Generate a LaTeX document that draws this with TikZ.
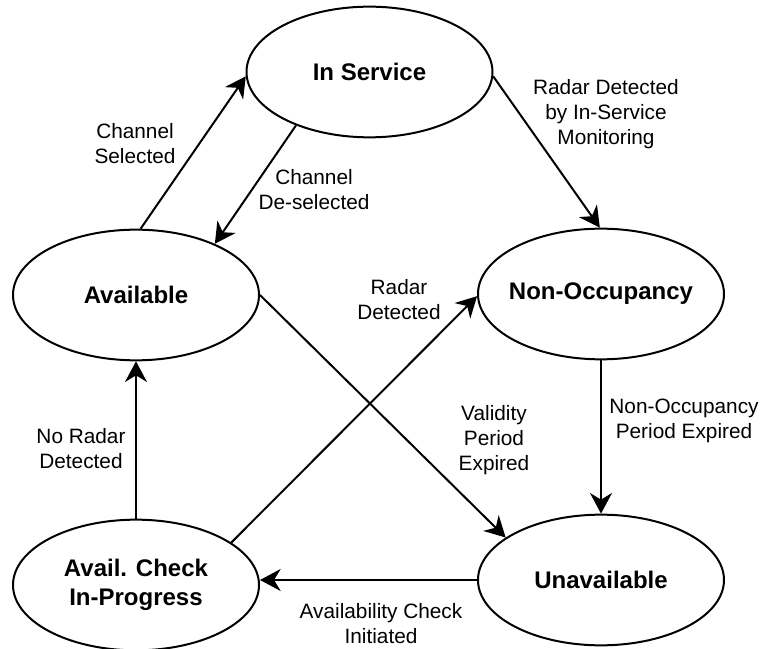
\documentclass[tikz,border=0pt]{standalone}
\usepackage{fontspec}
\setmainfont{Liberation Sans}
\usetikzlibrary{shapes.geometric,arrows.meta}
\tikzset{
  state/.style={draw, ellipse, line width=1.5pt, minimum width=184.5pt, minimum height=98pt, inner sep=0pt},
  stname/.style={align=center, font=\fontsize{18}{21.6}\selectfont\bfseries, inner sep=0pt},
  lbl/.style={align=center, font=\fontsize{15.6}{18.75}\selectfont, inner sep=0pt},
  conn/.style={line width=1.5pt, -{Stealth[length=15.5pt,width=16.5pt,inset=5pt]}}
}
\begin{document}
\begin{tikzpicture}[x=0.75pt,y=-0.75pt]
\fill[white] (0,0) rectangle (765,649);
\useasboundingbox (0,0) rectangle (765,649);

\node[state, label={[stname]center:In Service}] (ins) at (369.5,72) {};
\node[state, label={[stname]center:Available}] (avl) at (136,295) {};
\node[state, label={[stname]center:Non-Occupancy}] (noc) at (601,294) {};
\node[state, label={[stname]center:{Avail. Check\\In-Progress}}] (avc) at (136,585) {};
\node[state, label={[stname]center:Unavailable}] (una) at (601,580) {};

\draw[conn] (avl.86.5) -- (ins.182);
\draw[conn] (ins.216.8) -- (avl.33);
\draw[conn] (ins.-2.3) -- (noc.91.7);
\draw[conn] (avl.east) -- (una.156.4);
\draw[conn] (avc.24.1) -- (noc.181.4);
\draw[conn] (avc.north) -- (avl.south);
\draw[conn] (noc.south) -- (una.north);
\draw[conn] (una.west) -- (avc.east |- una.west);

\node[lbl] (l1) at (135,144) {Channel\\Selected};
\node[lbl] (l2) at (314,190) {Channel\\De-selected};
\node[lbl] (l3) at (606,114) {Radar Detected\\by In-Service\\Monitoring};
\node[lbl] (l4) at (399,300) {Radar\\Detected};
\node[lbl] (l5) at (494,440) {Validity\\Period\\Expired};
\node[lbl] (l6) at (81,449) {No Radar\\Detected};
\node[lbl] (l7) at (684,421) {Non-Occupancy\\Period Expired};
\node[lbl] (l8) at (381,624) {Availability Check\\Initiated};
\end{tikzpicture}
\end{document}
